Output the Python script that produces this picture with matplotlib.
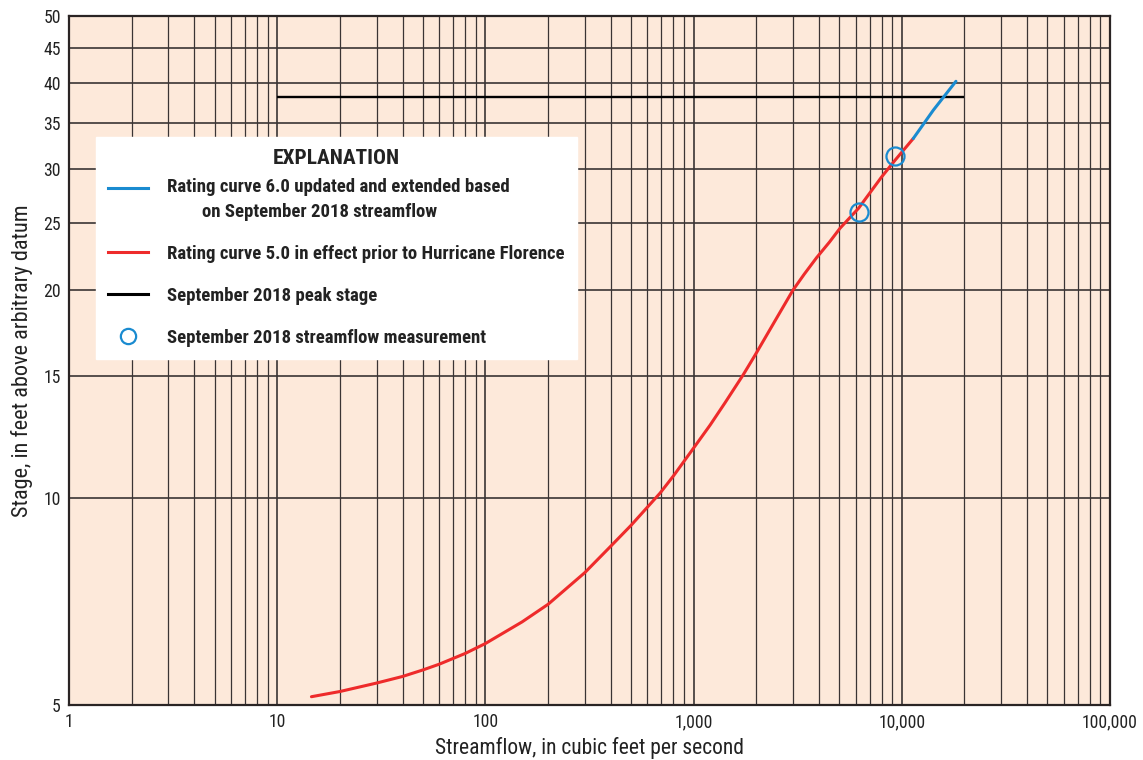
import numpy as np
import matplotlib.pyplot as plt
from matplotlib.lines import Line2D
from matplotlib.legend_handler import HandlerLine2D
from matplotlib.ticker import FixedLocator, LogLocator, NullFormatter, NullLocator

# rating curve 5.0 (red)
q_rc5 = [14.6, 20, 30, 40, 50, 60, 80, 100, 150, 200, 300, 400, 500, 690, 800,
         1000, 1200, 1416, 1730, 1972, 2500, 3000, 3400, 3900, 4500, 5050, 6200,
         8000, 9300, 11350]
h_rc5 = [5.14, 5.23, 5.38, 5.50, 5.62, 5.73, 5.94, 6.14, 6.6, 7.0, 7.78, 8.5,
         9.11, 10.15, 10.75, 11.8, 12.74, 13.73, 15.07, 16.09, 18.2, 20.0,
         21.1, 22.3, 23.5, 24.6, 26.3, 29.2, 30.9, 33.2]

# rating curve 6.0 extension (blue)
q_rc6 = [11350, 14170, 18200]
h_rc6 = [33.2, 36.5, 40.2]

# peak stage
peak_q = [10, 20000]
peak_h = 38.2

# measurements
meas_q = [6200, 9300]
meas_h = [26.0, 31.3]

yticks = [5, 10, 15, 20, 25, 30, 35, 40, 45, 50]
xticks = [1, 10, 100, 1000, 10000, 100000]
xtick_labels = ["1", "10", "100", "1,000", "10,000", "100,000"]

FAM = ["Roboto Condensed", "Liberation Sans Narrow", "DejaVu Sans"]
plt.rcParams["font.family"] = FAM
plt.rcParams["font.stretch"] = "condensed"

BG = "#fde9da"
GRID = "#3a3434"
BLUE = "#1a8bd0"
RED = "#ee2b2b"
TXT = "#222222"


class RaisedLine(HandlerLine2D):
    # put the legend line next to the first line of a two-line label
    def __init__(self, dy, **kw):
        super().__init__(**kw)
        self.dy = dy

    def create_artists(self, legend, orig_handle, xdescent, ydescent, width,
                       height, fontsize, trans):
        return super().create_artists(legend, orig_handle, xdescent,
                                      ydescent - 2 * self.dy, width, height,
                                      fontsize, trans)


fig = plt.figure(figsize=(11.43, 7.6), dpi=100)
ax = fig.add_axes([0.0604, 0.0724, 0.9107, 0.9065])
ax.set_facecolor(BG)
ax.set_xscale("log")
ax.set_yscale("log")
ax.set_xlim(1, 100000)
ax.set_ylim(5, 50)

ax.xaxis.set_major_locator(FixedLocator(xticks))
ax.set_xticklabels(xtick_labels)
ax.xaxis.set_minor_locator(LogLocator(base=10, subs=np.arange(2, 10), numticks=20))
ax.xaxis.set_minor_formatter(NullFormatter())
ax.yaxis.set_major_locator(FixedLocator(yticks))
ax.set_yticklabels([str(v) for v in yticks])
ax.yaxis.set_minor_locator(NullLocator())

ax.grid(which="major", axis="both", color=GRID, linewidth=1.2, zorder=1)
ax.grid(which="minor", axis="x", color=GRID, linewidth=0.9, zorder=1)
ax.set_axisbelow(True)
ax.tick_params(which="both", length=0, labelsize=12.7, colors=TXT, pad=6)
for s in ax.spines.values():
    s.set_linewidth(1.6)
    s.set_color("#2a2424")

ax.hlines(peak_h, peak_q[0], peak_q[1], color="black", linewidth=1.7, zorder=3)
ax.plot(q_rc5, h_rc5, color=RED, linewidth=2.2, zorder=4, solid_capstyle="round")
ax.plot(q_rc6, h_rc6, color=BLUE, linewidth=2.2, zorder=4, solid_capstyle="round")
ax.plot(meas_q, meas_h, linestyle="none", marker="o", markersize=13,
        markerfacecolor="none", markeredgecolor=BLUE, markeredgewidth=1.6, zorder=5)

ax.set_xlabel("Streamflow, in cubic feet per second", fontsize=15.5, color=TXT, labelpad=4)
ax.set_ylabel("Stage, in feet above arbitrary datum", fontsize=16, color=TXT, labelpad=7)

h_blue = Line2D([], [], color=BLUE, linewidth=2.2)
handles = [
    h_blue,
    Line2D([], [], color=RED, linewidth=2.2),
    Line2D([], [], color="black", linewidth=2.2),
    Line2D([], [], linestyle="none", marker="o", markersize=11,
           markerfacecolor="none", markeredgecolor=BLUE, markeredgewidth=1.6),
]
labels = [
    "Rating curve 6.0 updated and extended based\n        on September 2018 streamflow",
    "Rating curve 5.0 in effect prior to Hurricane Florence",
    "September 2018 peak stage",
    "September 2018 streamflow measurement",
]
leg = ax.legend(handles, labels, loc="upper left", bbox_to_anchor=(0.0259, 0.8244),
                borderaxespad=0, frameon=True, fancybox=False, framealpha=1,
                facecolor="white", edgecolor="white", handlelength=2.13,
                handletextpad=1.0, labelspacing=1.28, borderpad=0.65,
                title="EXPLANATION",
                handler_map={h_blue: RaisedLine(8.5)},
                prop={"family": FAM, "weight": "bold", "size": 13.5},
                title_fontproperties={"family": FAM, "weight": "bold", "size": 15.4})
leg.set_zorder(6)
leg._legend_box.sep = 7
for t in leg.get_texts():
    t.set_color(TXT)
    t.set_linespacing(1.5)
leg.get_title().set_color(TXT)

fig.savefig("out.png", dpi=100, facecolor="white")
